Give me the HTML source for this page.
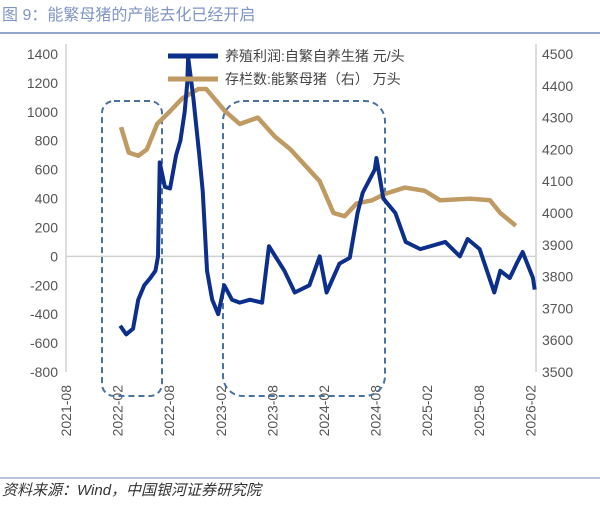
<!DOCTYPE html>
<html><head><meta charset="utf-8"><style>
body{margin:0;background:#fff;}
svg text{font-family:"Liberation Sans","Noto Sans CJK SC",sans-serif;}
</style></head><body>
<svg width="600" height="500" viewBox="0 0 600 500" xmlns="http://www.w3.org/2000/svg">
<text x="2" y="20" font-size="16" fill="#7f95c4">图 9：能繁母猪的产能去化已经开启</text>
<line x1="0" y1="33" x2="600" y2="33" stroke="#6f86b8" stroke-width="1.5"/>
<line x1="0" y1="478" x2="600" y2="478" stroke="#6f86b8" stroke-width="1"/>
<text x="2" y="495" font-size="15" font-style="italic" fill="#333" font-family="Liberation Serif,'Noto Serif CJK SC',serif">资料来源：Wind，中国银河证券研究院</text>
<g id="axes"></g>
<g id="boxes"></g>
<g id="series"></g>
<g id="legend">
<line x1="168" y1="56" x2="218" y2="56" stroke="#0d2f8c" stroke-width="5"/>
<text x="225" y="61" font-size="14" fill="#444">养殖利润:自繁自养生猪 元/头</text>
<line x1="168" y1="79" x2="218" y2="79" stroke="#bf9a62" stroke-width="5"/>
<text x="225" y="84" font-size="14" fill="#444">存栏数:能繁母猪（右） 万头</text>
</g>
</svg>
<script>
const xTickLabels=["2021-08","2022-02","2022-08","2023-02","2023-08","2024-02","2024-08","2025-02","2025-08","2026-02"];
const leftTicks=[1400,1200,1000,800,600,400,200,0,-200,-400,-600,-800];
const rightTicks=[4500,4400,4300,4200,4100,4000,3900,3800,3700,3600,3500];
// months since 2021-08
const profitMonths=[6.3,7,7.8,8.4,9.1,9.8,10.4,10.7,10.9,11.5,12.1,12.8,13.3,13.8,14.1,14.2,14.8,15.5,15.9,16.4,17,17.7,18.4,19.3,20.2,21.4,22.8,23.6,25.4,26.6,28.3,29.5,30.3,31.8,33,33.9,34.5,35.9,36.1,36.9,38.3,39.5,41.2,44.1,45.8,46.7,48.1,49.8,50.5,51.6,52.4,53.1,54.3,54.5];
const profitValues=[-480,-540,-500,-300,-200,-150,-100,0,650,480,470,700,800,1000,1200,1380,1100,700,450,-100,-300,-400,-200,-300,-320,-300,-320,70,-100,-250,-200,0,-250,-50,-10,300,440,600,680,400,300,100,50,100,0,120,50,-250,-100,-150,-50,30,-150,-230];
const sowMonths=[6.4,7.3,8.4,9.4,10.6,12.1,13.5,15.4,16.3,18.5,20.2,22.3,24.3,26.1,27.8,29.5,31.1,32.4,33.8,35.6,37.1,39.4,41.7,43.5,47,49.3,50.5,52.3];
const sowValues=[4270,4190,4180,4200,4280,4320,4360,4390,4390,4320,4280,4300,4240,4200,4150,4100,4000,3990,4030,4040,4060,4080,4070,4040,4045,4040,4000,3960];

const NS="http://www.w3.org/2000/svg";
const X0=66,PXM=8.6,TOP=54,BOT=372,XR=536;
const xS=m=>X0+m*PXM;
const yL=v=>TOP+(1400-v)/2200*(BOT-TOP);
const yR=v=>TOP+(4500-v)/1000*(BOT-TOP);
function mk(tag,attrs,parent,txt){const e=document.createElementNS(NS,tag);for(const k in attrs)e.setAttribute(k,attrs[k]);if(txt!==undefined)e.textContent=txt;document.getElementById(parent).appendChild(e);return e;}

let e;
e=mk('line',{x1:X0,y1:TOP-10,x2:X0,y2:BOT,stroke:'#d0d0d0','stroke-width':1.5},'axes');


e=mk('line',{x1:XR,y1:TOP-10,x2:XR,y2:BOT,stroke:'#d0d0d0','stroke-width':1.5},'axes');


e=mk('line',{x1:X0,y1:yL(0),x2:XR,y2:yL(0),stroke:'#d0d0d0','stroke-width':1.5},'axes');


leftTicks.forEach(v=>{const t=mk('text',{x:X0-8,y:yL(v)+5,'font-size':14,fill:'#555','text-anchor':'end'},'axes',String(v));

});
rightTicks.forEach(v=>{const t=mk('text',{x:XR+6,y:yR(v)+5,'font-size':14,fill:'#555'},'axes',String(v));

});
xTickLabels.forEach((s,i)=>{const x=xS(i*6);const t=mk('text',{x:0,y:0,'font-size':14,fill:'#555','text-anchor':'end',transform:`translate(${x+5},385) rotate(-90)`},'axes',s);

});

e=mk('rect',{x:102,y:101,width:60,height:295,rx:12,fill:'none',stroke:'#4a72a0','stroke-width':2,'stroke-dasharray':'6,4'},'boxes');


e=mk('rect',{x:223,y:101,width:162,height:295,rx:20,fill:'none',stroke:'#4a72a0','stroke-width':2,'stroke-dasharray':'6,4'},'boxes');



e=mk('polyline',{points:sowMonths.map((m,i)=>xS(m)+','+yR(sowValues[i])).join(' '),fill:'none',stroke:'#bf9a62','stroke-width':4.5,'stroke-linejoin':'round'},'series');


e=mk('polyline',{points:profitMonths.map((m,i)=>xS(m)+','+yL(profitValues[i])).join(' '),fill:'none',stroke:'#0d2f8c','stroke-width':4,'stroke-linejoin':'round'},'series');


</script>
</body></html>
